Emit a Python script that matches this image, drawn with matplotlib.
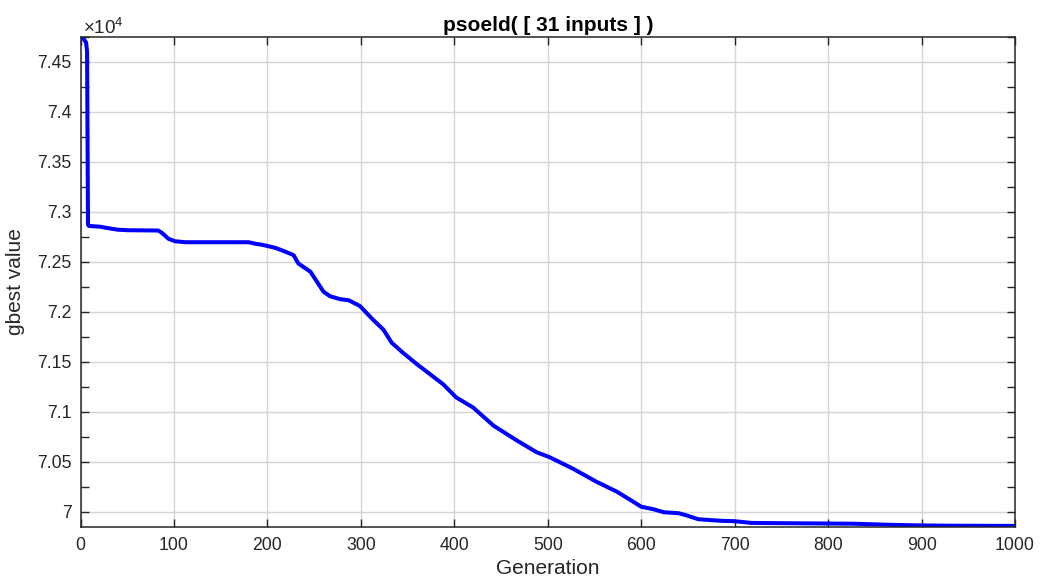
import matplotlib
matplotlib.use("Agg")
import matplotlib.pyplot as plt
from matplotlib.ticker import MultipleLocator, FuncFormatter

plt.rcParams['font.family'] = ['Liberation Sans', 'DejaVu Sans']
plt.rcParams['mathtext.default'] = 'regular'

# gbest value per generation
generation = [0, 3, 6, 7, 8, 9, 21, 30, 40, 51, 83, 87, 94, 101, 112, 180, 187,
              194, 201, 208, 218, 228, 233, 246, 260, 267, 278, 287, 299, 313,
              324, 333, 345, 360, 374, 388, 402, 420, 442, 467, 488, 502, 527,
              552, 574, 588, 600, 613, 624, 640, 649, 661, 684, 700, 718, 756,
              827, 863, 898, 934, 1000]
gbest = [74750, 74735, 74690, 74600, 72870, 72858, 72850, 72835, 72820, 72815,
         72812, 72790, 72730, 72705, 72695, 72695, 72680, 72670, 72655, 72640,
         72605, 72566, 72483, 72400, 72200, 72155, 72125, 72115, 72057, 71920,
         71822, 71690, 71590, 71475, 71375, 71275, 71143, 71043, 70860, 70712,
         70595, 70545, 70430, 70300, 70200, 70120, 70050, 70025, 69995, 69985,
         69962, 69925, 69910, 69905, 69888, 69885, 69880, 69870, 69863, 69860,
         69858]

title = 'psoeld( [ 31 inputs ] )'
xlabel = 'Generation'
ylabel = 'gbest value'

txt = '#262626'

fig = plt.figure(figsize=(10.43, 5.83), dpi=100)
ax = fig.add_axes([0.0772, 0.0955, 0.896, 0.8415])

ax.plot(generation, gbest, color='#0000ff', lw=2.9, solid_joinstyle='round')

ax.set_xlim(0, 1000)
ax.set_ylim(69844, 74750)
ax.xaxis.set_major_locator(MultipleLocator(100))
ax.yaxis.set_major_locator(MultipleLocator(500))
ax.yaxis.set_minor_locator(MultipleLocator(250))
ax.yaxis.set_major_formatter(FuncFormatter(lambda v, p: '%g' % round(v / 1e4, 4)))

ax.grid(True, which='major', color='#d6d6d6', lw=1.0)
ax.set_axisbelow(True)

ax.tick_params(which='both', direction='in', top=True, right=True,
               length=5.8, width=1.0, color=txt, labelcolor=txt, labelsize=12.7)
ax.tick_params(axis='x', pad=7)
ax.tick_params(axis='y', pad=6.5)
for s in ax.spines.values():
    s.set_color(txt)
    s.set_linewidth(1.1)

ax.set_title(title, fontsize=15, fontweight='bold', color='black', pad=4)
ax.set_xlabel(xlabel, fontsize=15, color=txt, labelpad=3.5)
ax.set_ylabel(ylabel, fontsize=15, color=txt)
ax.yaxis.set_label_coords(-0.059, 0.5)

# multiplier label, MATLAB style
ax.annotate(r'$\times$10$^{4}$', xy=(0, 1), xycoords='axes fraction',
            xytext=(1.5, 2), textcoords='offset points', ha='left', va='baseline',
            fontsize=13.5, color=txt)

fig.savefig('out.png', dpi=100, facecolor='white')
